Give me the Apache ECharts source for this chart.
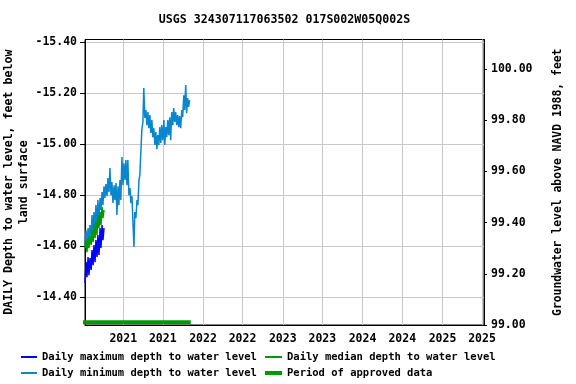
<!DOCTYPE html>
<html><head><meta charset="utf-8">
<script src="https://cdn.jsdelivr.net/npm/echarts@6/dist/echarts.min.js"></script>
<style>html,body{margin:0;padding:0;background:#fff}#c{width:576px;height:384px}</style>
</head><body><div id="c"></div>
<script>
const titleText = 'USGS 324307117063502 017S002W05Q002S';
const leftAxisName = 'DAILY Depth to water level, feet below\nland surface';
const rightAxisName = 'Groundwater level above NAVD 1988, feet';
const xRange = ['2020-07-10', '2025-07-10'];
const xTickDates = ['2021-01-01','2021-07-01','2022-01-01','2022-07-01','2023-01-01','2023-07-01','2024-01-01','2024-07-01','2025-01-01','2025-07-01'];
const depthRange = [-15.409, -14.292];
const depthTicks = [-15.4, -15.2, -15.0, -14.8, -14.6, -14.4];
const elevRange = [99.0, 100.116];
const elevTicks = [99.0, 99.2, 99.4, 99.6, 99.8, 100.0];

const seriesNames = ['Daily maximum depth to water level','Daily minimum depth to water level','Daily median depth to water level','Period of approved data'];

const minDates = ['2020-07-10','2020-07-15','2020-07-19','2020-07-24','2020-07-28','2020-08-02','2020-08-07','2020-08-11','2020-08-16','2020-08-20','2020-08-25','2020-08-29','2020-09-03','2020-09-07','2020-09-12','2020-09-17','2020-09-21','2020-09-26','2020-09-30','2020-10-05',
'2020-10-09','2020-10-14','2020-10-19','2020-10-23','2020-10-28','2020-11-01','2020-11-06','2020-11-10','2020-11-15','2020-11-20','2020-11-24','2020-11-29','2020-12-03','2020-12-08','2020-12-12','2020-12-17','2020-12-21','2020-12-26','2020-12-31',
'2021-01-04','2021-01-09','2021-01-13','2021-01-18','2021-01-22','2021-01-27','2021-02-01','2021-02-05','2021-02-10','2021-02-14','2021-02-19','2021-02-23','2021-02-28','2021-03-05','2021-03-09','2021-03-14','2021-03-18','2021-03-23','2021-03-27',
'2021-04-01','2021-04-05','2021-04-10','2021-04-15','2021-04-19','2021-04-24','2021-04-28','2021-05-03','2021-05-07','2021-05-12','2021-05-16','2021-05-21','2021-05-26','2021-05-30','2021-06-04','2021-06-08','2021-06-13','2021-06-17','2021-06-22','2021-06-26',
'2021-07-01','2021-07-06','2021-07-10','2021-07-15','2021-07-19','2021-07-24','2021-07-28','2021-08-02','2021-08-06','2021-08-11','2021-08-16','2021-08-20','2021-08-25','2021-08-29','2021-09-03','2021-09-07','2021-09-12','2021-09-16','2021-09-21','2021-09-26','2021-09-30','2021-10-05','2021-10-09','2021-10-14','2021-10-18','2021-10-23','2021-10-27','2021-11-01'];
const minDepth = [-14.605,-14.663,-14.593,-14.671,-14.624,-14.683,-14.636,-14.722,-14.655,-14.734,-14.663,-14.761,-14.683,-14.781,-14.710,-14.789,-14.742,-14.812,-14.761,-14.835,
-14.789,-14.843,-14.796,-14.867,-14.812,-14.906,-14.800,-14.851,-14.769,-14.839,-14.781,-14.847,-14.722,-14.835,-14.761,-14.859,-14.781,-14.949,-14.839,
-14.925,-14.859,-14.937,-14.839,-14.937,-14.800,-14.828,-14.769,-14.796,-14.702,-14.597,-14.734,-14.710,-14.781,-14.761,-14.859,-14.879,-14.976,-15.055,
-15.086,-15.219,-15.102,-15.133,-15.074,-15.125,-15.062,-15.113,-15.043,-15.094,-15.027,-15.062,-14.996,-15.047,-14.980,-15.035,-14.996,-15.066,-15.004,-15.074,
-15.015,-15.094,-14.996,-15.066,-15.027,-15.094,-15.035,-15.105,-15.015,-15.125,-15.074,-15.141,-15.086,-15.125,-15.074,-15.113,-15.066,-15.109,-15.062,-15.133,-15.105,-15.191,-15.133,-15.231,-15.121,-15.180,-15.145,-15.172];

const earlyDates = ['2020-07-10','2020-07-15','2020-07-19','2020-07-24','2020-07-28','2020-08-02','2020-08-07','2020-08-11','2020-08-16','2020-08-20','2020-08-25','2020-08-29','2020-09-03','2020-09-07','2020-09-12','2020-09-17','2020-09-21','2020-09-26','2020-09-30','2020-10-05'];
const maxDepth = [-14.456,-14.538,-14.479,-14.558,-14.487,-14.554,-14.507,-14.585,-14.526,-14.605,-14.538,-14.624,-14.558,-14.644,-14.566,-14.671,-14.593,-14.683,-14.624,-14.671];
const medianDepth = [-14.593,-14.624,-14.577,-14.632,-14.593,-14.640,-14.605,-14.663,-14.616,-14.683,-14.632,-14.695,-14.644,-14.722,-14.671,-14.734,-14.683,-14.753,-14.710,-14.742];

const approvedDates = ['2020-06-29','2021-11-06'];
const approvedLevel = -14.303;

function ts(s){ const p = s.split('-').map(Number); return new Date(p[0], p[1]-1, p[2]).getTime(); }
function pairs(d, v){ return d.map((x,i)=>[ts(x), v[i]]); }

const FONT = 'DejaVu Sans Mono';
const txt = {fontFamily: FONT, fontWeight: 'bold', color: '#000', fontSize: 11.5};
const colors = {max: '#0000ff', min: '#0a86cf', median: '#009a00', approved: '#009a00'};
const colorOf = [colors.max, colors.min, colors.median, colors.approved];

const chart = echarts.init(document.getElementById('c'), null, {renderer: 'canvas'});
function leg(i, left, top, h, w){
  return {data:[{name: seriesNames[i], icon: 'rect', itemStyle: {color: colorOf[i], borderWidth: 0, opacity: 1}}],
    left:left, top:top, orient:'horizontal', padding:0,
    itemWidth:w, itemHeight:h, selectedMode:false,
    textStyle:{fontFamily:FONT, fontWeight:'bold', fontSize:10.5, color:'#000', lineHeight: 14}, itemGap:5};
}
chart.setOption({
  animation: false,
  backgroundColor: '#fff',
  title: {text: titleText, left: 284.5, top: 14, textAlign: 'center', textStyle: Object.assign({}, txt, {fontSize: 11.6}), padding: 0},
  grid: {left: 85, right: 92, top: 39.5, bottom: 59, outerBoundsMode: 'none', containLabel: false,
    show: true, borderColor: '#000', borderWidth: 1, backgroundColor: 'transparent'},
  legend: [
    leg(0, 21, 350, 2, 16),
    leg(1, 21, 366, 2, 16),
    leg(2, 265, 350, 2, 17),
    leg(3, 265, 366, 4, 17)
  ],
  xAxis: {
    type: 'value', min: ts(xRange[0]), max: ts(xRange[1]),
    axisLine: {show: true, lineStyle: {color: '#000'}},
    axisTick: {show: false, customValues: xTickDates.map(ts)},
    axisLabel: Object.assign({}, txt, {customValues: xTickDates.map(ts), margin: 8, hideOverlap: false,
      formatter: v => String(new Date(v).getFullYear())}),
    splitLine: {show: true, lineStyle: {color: '#c8c8c8', width: 1}}
  },
  yAxis: [
    {type: 'value', position: 'left', inverse: true, min: depthRange[0], max: depthRange[1],
      name: leftAxisName, nameLocation: 'middle', nameGap: 54, nameMoveOverlap: false,
      nameTextStyle: Object.assign({}, txt, {fontSize: 11.6, lineHeight: 15}),
      axisLine: {show: true, lineStyle: {color: '#000'}},
      axisTick: {show: true, inside: false, length: 5, customValues: depthTicks, lineStyle: {color: '#000'}},
      axisLabel: Object.assign({}, txt, {customValues: depthTicks, margin: 8, formatter: v => v.toFixed(2)}),
      splitLine: {show: true, lineStyle: {color: '#c8c8c8', width: 1}}},
    {type: 'value', position: 'right', min: elevRange[0], max: elevRange[1],
      name: rightAxisName, nameLocation: 'middle', nameGap: 69,
      nameTextStyle: Object.assign({}, txt, {fontSize: 11.4}),
      axisLine: {show: true, lineStyle: {color: '#000'}},
      axisTick: {show: true, inside: false, length: 3, customValues: elevTicks, lineStyle: {color: '#000'}},
      axisLabel: Object.assign({}, txt, {customValues: elevTicks, margin: 7, formatter: v => v.toFixed(2)}),
      splitLine: {show: false}}
  ],
  series: [
    {name: seriesNames[1], type: 'line', yAxisIndex: 0, symbol: 'none', data: pairs(minDates, minDepth),
      lineStyle: {color: colors.min, width: 1.5}, itemStyle: {color: colors.min}},
    {name: seriesNames[2], type: 'line', yAxisIndex: 0, symbol: 'none', data: pairs(earlyDates, medianDepth),
      lineStyle: {color: colors.median, width: 1.5}, itemStyle: {color: colors.median}},
    {name: seriesNames[0], type: 'line', yAxisIndex: 0, symbol: 'none', data: pairs(earlyDates, maxDepth),
      lineStyle: {color: colors.max, width: 1.5}, itemStyle: {color: colors.max}},
    {name: seriesNames[3], type: 'line', yAxisIndex: 0, symbol: 'none', clip: false,
      data: approvedDates.map(d => [ts(d), approvedLevel]),
      lineStyle: {color: colors.approved, width: 4, cap: 'butt'}, itemStyle: {color: colors.approved}}
  ]
});
</script></body></html>
